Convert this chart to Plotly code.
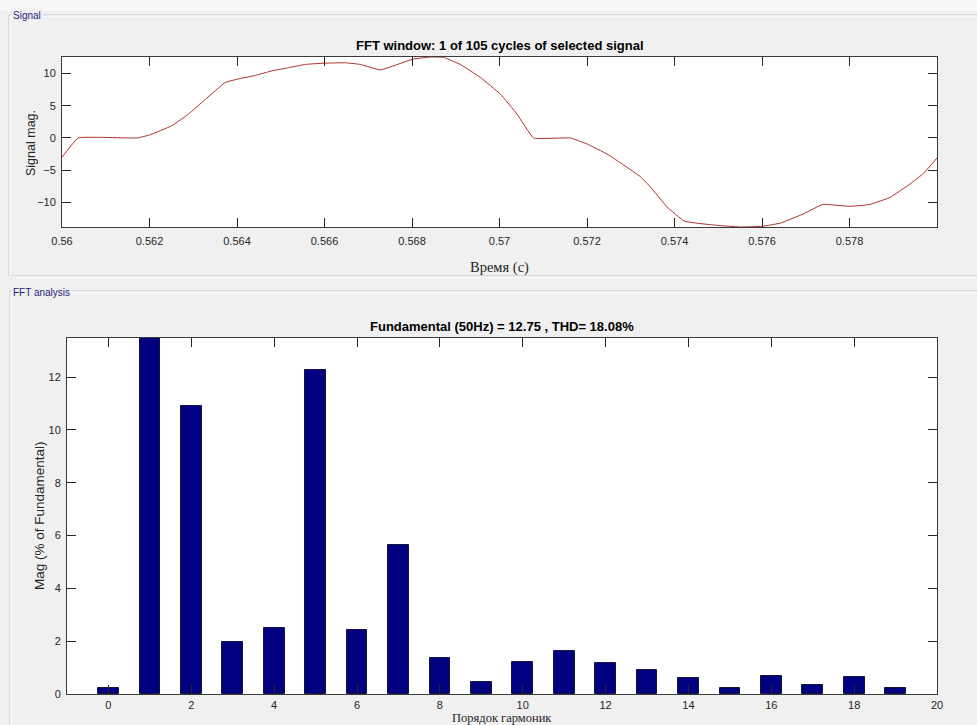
import plotly.graph_objects as go

# ---------------- data ----------------
time_s = [0.56, 0.56037, 0.56171, 0.562, 0.56251, 0.56289, 0.56328, 0.56373, 0.564,
          0.56442, 0.5648, 0.56518, 0.56556, 0.566, 0.56648, 0.56682, 0.56728, 0.56801,
          0.56842, 0.56872, 0.5691, 0.56956, 0.57002, 0.5704, 0.57078, 0.57162, 0.572,
          0.57246, 0.57284, 0.57322, 0.57345, 0.57383, 0.57423, 0.5749, 0.5755, 0.576,
          0.57642, 0.57695, 0.57739, 0.578, 0.57847, 0.57893, 0.57939, 0.57969, 0.58]
signal = [-3.0, 0.0, 0.0, 0.46, 1.9, 3.7, 6.0, 8.6, 9.1,
          9.7, 10.4, 10.9, 11.4, 11.6, 11.65, 11.4, 10.55, 12.2,
          12.55, 12.5, 11.4, 9.4, 6.8, 3.7, 0.0, 0.0, -0.93,
          -2.5, -4.2, -6.0, -7.6, -10.7, -12.9, -13.5, -13.8, -13.7,
          -13.2, -11.75, -10.3, -10.6, -10.3, -9.2, -7.1, -5.5, -3.1]

harmonic_order = list(range(0, 20))
harmonic_mag = [0.21, 100.0, 10.92, 1.97, 2.51, 12.27, 2.42, 5.65, 1.35, 0.47,
                1.21, 1.64, 1.19, 0.92, 0.59, 0.24, 0.69, 0.34, 0.66, 0.24]

top_title = "FFT window: 1 of 105 cycles of selected signal"
bottom_title = "Fundamental (50Hz) = 12.75 , THD= 18.08%"
top_xlabel = "Время (c)"
bottom_xlabel = "Порядок гармоник"
top_ylabel = "Signal mag."
bottom_ylabel = "Mag (% of Fundamental)"
top_xticks = [0.56, 0.562, 0.564, 0.566, 0.568, 0.57, 0.572, 0.574, 0.576, 0.578]
top_xticklabels = ["0.56", "0.562", "0.564", "0.566", "0.568", "0.57", "0.572", "0.574", "0.576", "0.578"]

# ---------------- layout helpers ----------------
W, H = 977, 725
def px(x):
    return x / W
def py(y):
    return (H - y) / H

TICKC = "#262626"
FONT = "Liberation Sans, Arial, sans-serif"
SERIF = "Liberation Serif, Times New Roman, serif"

fig = go.Figure()

fig.add_trace(go.Scatter(x=time_s, y=signal, mode="lines", line_shape="spline",
                         line=dict(color="#b0302a", width=1, smoothing=0.3),
                         xaxis="x", yaxis="y", showlegend=False,
                         hoverinfo="x+y"))

fig.add_trace(go.Bar(x=harmonic_order, y=harmonic_mag, width=0.5,
                     marker=dict(color="#000080", line=dict(color="#14143c", width=1)),
                     xaxis="x2", yaxis="y2", showlegend=False))

axis_common = dict(
    ticks="inside", ticklen=9, tickwidth=1, tickcolor=TICKC,
    showline=True, linecolor="#3a3a3a", linewidth=1, mirror="allticks",
    showgrid=False, zeroline=False, automargin=False,
    tickfont=dict(family=FONT, size=11, color=TICKC),
)

fig.update_layout(
    width=W, height=H,
    margin=dict(l=0, r=0, t=0, b=0, pad=0, autoexpand=False),
    paper_bgcolor="#f0f0f0",
    plot_bgcolor="#ffffff",
    bargap=0,
    xaxis=dict(domain=[px(62), px(937)], anchor="y", range=[0.56, 0.58],
               tickvals=top_xticks, ticktext=top_xticklabels, ticklabelstandoff=4,
               **axis_common),
    yaxis=dict(domain=[py(227), py(57)], anchor="x", range=[-13.8, 12.55],
               tickvals=[-10, -5, 0, 5, 10], ticklabelstandoff=3, **axis_common),
    xaxis2=dict(domain=[px(67), px(937)], anchor="y2", range=[-1, 20],
                tickvals=list(range(0, 21, 2)), ticklabelstandoff=1, **axis_common),
    yaxis2=dict(domain=[py(694), py(338)], anchor="x2", range=[0, 13.48],
                tickvals=[0, 2, 4, 6, 8, 10, 12], ticklabelstandoff=3, **axis_common),
)

shapes = []
# light strip at top of window
shapes.append(dict(type="rect", xref="paper", yref="paper", x0=0, x1=1, y0=py(11), y1=1,
                   fillcolor="#f8f8f8", line=dict(width=0), layer="below"))
# panel frames (etched look)
for (y0, y1, x0) in [(15, 276, 9), (291, 740, 10)]:
    shapes.append(dict(type="rect", xref="paper", yref="paper",
                       x0=px(x0), x1=px(990), y0=py(y1), y1=py(y0),
                       line=dict(color="#c4c4c4", width=1), layer="below"))
    shapes.append(dict(type="rect", xref="paper", yref="paper",
                       x0=px(x0 + 1), x1=px(991), y0=py(y1 + 1), y1=py(y0 + 1),
                       line=dict(color="#ffffff", width=1), layer="below"))
fig.update_layout(shapes=shapes)

annotations = [
    dict(text="Signal", x=px(11), y=py(15), xanchor="left", yanchor="middle",
         font=dict(family=FONT, size=10, color="#1f1f7a"), bgcolor="#f0f0f0", borderpad=1),
    dict(text="FFT analysis", x=px(11), y=py(292), xanchor="left", yanchor="middle",
         font=dict(family=FONT, size=10, color="#1f1f7a"), bgcolor="#f0f0f0", borderpad=1),
    dict(text="<b>" + top_title + "</b>", x=px(499.5), y=py(46), xanchor="center", yanchor="middle",
         font=dict(family=FONT, size=13, color="#000000")),
    dict(text="<b>" + bottom_title + "</b>", x=px(502), y=py(326), xanchor="center", yanchor="middle",
         font=dict(family=FONT, size=13, color="#000000")),
    dict(text=top_xlabel, x=px(499.5), y=py(267), xanchor="center", yanchor="middle",
         font=dict(family=SERIF, size=14.5, color=TICKC)),
    dict(text=bottom_xlabel, x=px(502), y=py(718), xanchor="center", yanchor="middle",
         font=dict(family=SERIF, size=12.5, color=TICKC)),
    dict(text=top_ylabel, x=px(31), y=py(143), xanchor="center", yanchor="middle", textangle=-90,
         font=dict(family=FONT, size=12.5, color=TICKC)),
    dict(text=bottom_ylabel, x=px(39), y=py(516), xanchor="center", yanchor="middle", textangle=-90,
         font=dict(family=FONT, size=13.5, color=TICKC)),
]
for a in annotations:
    a.update(xref="paper", yref="paper", showarrow=False)
fig.update_layout(annotations=annotations)

fig.write_html("out.html")
